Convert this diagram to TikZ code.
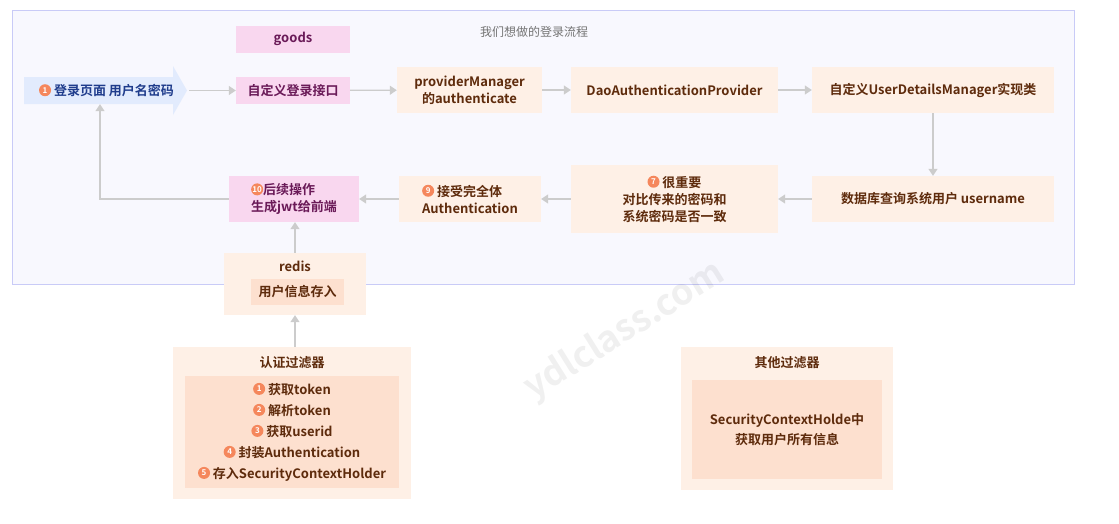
\documentclass[tikz,border=0pt]{standalone}
\usepackage{fontspec}
\setmainfont{Noto Sans CJK SC}[BoldFont={Noto Sans CJK SC Bold}]
\usetikzlibrary{arrows.meta}
\definecolor{FrameClr}{HTML}{C9CBF7}
\definecolor{FrameFill}{HTML}{F8F8FE}
\definecolor{PinkClr}{HTML}{F9D7EF}
\definecolor{PinkText}{HTML}{6A1A58}
\definecolor{PeachClr}{HTML}{FEF0E6}
\definecolor{PeachDeep}{HTML}{FDE0CF}
\definecolor{BrownText}{HTML}{5E2B0C}
\definecolor{BlueClr}{HTML}{E2EBFD}
\definecolor{BlueText}{HTML}{1F3C8C}
\definecolor{BadgeClr}{HTML}{F5875C}
\definecolor{LinkClr}{HTML}{CCCCCC}

\tikzset{
  box/.style={inner sep=0pt,align=center,font=\fontsize{13}{17}\selectfont\bfseries},
  pinkbox/.style={box,fill=PinkClr,text=PinkText},
  peachbox/.style={box,fill=PeachClr,text=BrownText},
  deepbox/.style={box,fill=PeachDeep,text=BrownText},
  link/.style={draw=LinkClr,line width=1.2pt,-{Triangle[length=7pt,width=9pt]}},
  badge/.style={circle,fill=BadgeClr,text=white,inner sep=0pt,minimum size=12pt,font=\fontsize{8}{8}\selectfont\bfseries},
}
\newcommand{\badge}[1]{\tikz[baseline=-.75ex]\node[badge]{#1};}

\begin{document}
\begin{tikzpicture}[x=1pt,y=-1pt]
\useasboundingbox (0,0) rectangle (1119,523);
\draw[FrameClr,fill=FrameFill,line width=1pt] (12,10) rectangle (1074,284);
\node[text=black!55,font=\fontsize{12}{12}\selectfont] (title) at (534,32) {我们想做的登录流程};
\node[rotate=32,text=black,opacity=.06,font=\fontsize{36}{36}\selectfont\bfseries] (mark) at (625,331) {ydlclass.com};

\fill[BlueClr] (24,77) -- (173,77) -- (173,66) -- (187,90.5) -- (173,115) -- (173,104) -- (24,104) -- cycle;
\node[box,text=BlueText,minimum width=165pt,minimum height=27pt] (login) at (106.5,90.5) {\badge{1} 登录页面 用户名密码};

\node[pinkbox,minimum width=114pt,minimum height=27pt] (goods) at (293,39) {goods};
\node[pinkbox,minimum width=114pt,minimum height=27pt] (entry) at (293,90.5) {自定义登录接口};
\node[peachbox,minimum width=145pt,minimum height=46pt] (provider) at (469.5,90) {providerManager\\的authenticate};
\node[peachbox,minimum width=207pt,minimum height=46pt] (dao) at (674.5,90) {DaoAuthenticationProvider};
\node[peachbox,minimum width=242pt,minimum height=46pt] (details) at (933,90) {自定义UserDetailsManager实现类};
\node[peachbox,minimum width=242pt,minimum height=46pt] (dbquery) at (933,199) {数据库查询系统用户 username};
\node[peachbox,minimum width=207pt,minimum height=68pt] (compare) at (674.5,199) {\badge{7} 很重要\\对比传来的密码和\\系统密码是否一致};
\node[peachbox,minimum width=142pt,minimum height=46pt,align=left] (accept) at (470,199) {\badge{9} 接受完全体\\Authentication};
\node[pinkbox,minimum width=130pt,minimum height=46pt,align=left] (later) at (294,199) {\badge{10}后续操作\\生成jwt给前端};

\node[peachbox,minimum width=142pt,minimum height=62pt] (redis) at (295,284) {};
\node[box,text=BrownText] (redisname) at (295,266) {redis};
\node[deepbox,minimum width=93pt,minimum height=26pt] (store) at (297.5,292) {用户信息存入};

\node[peachbox,minimum width=238pt,minimum height=152pt] (filter) at (292,423) {};
\node[box,text=BrownText] (filtername) at (292,363) {认证过滤器};
\node[deepbox,minimum width=214pt,minimum height=112pt,font=\fontsize{13}{21}\selectfont\bfseries] (filtersteps) at (292,432)
  {\badge{1} 获取token\\\badge{2} 解析token\\\badge{3} 获取userid\\\badge{4} 封装Authentication\\\badge{5} 存入SecurityContextHolder};

\node[peachbox,minimum width=212pt,minimum height=143pt] (other) at (787,418.5) {};
\node[box,text=BrownText] (othername) at (787,363) {其他过滤器};
\node[deepbox,minimum width=190pt,minimum height=99pt,font=\fontsize{13}{20}\selectfont\bfseries] (othertext) at (787,429.5)
  {SecurityContextHolde中\\获取用户所有信息};

\draw[link] (login.east) -- (entry.west);
\draw[link] (entry) -- (provider);
\draw[link] (provider) -- (dao);
\draw[link] (dao) -- (details);
\draw[link] (details) -- (dbquery);
\draw[link] (dbquery) -- (compare);
\draw[link] (compare) -- (accept);
\draw[link] (accept) -- (later);
\draw[link] (later.west) -| ([xshift=-6.5pt]login.south);
\draw[link] (redis.north) -- (redis.north |- later.south);
\draw[link] (filter.north -| redis.south) -- (redis.south);
\end{tikzpicture}
\end{document}
